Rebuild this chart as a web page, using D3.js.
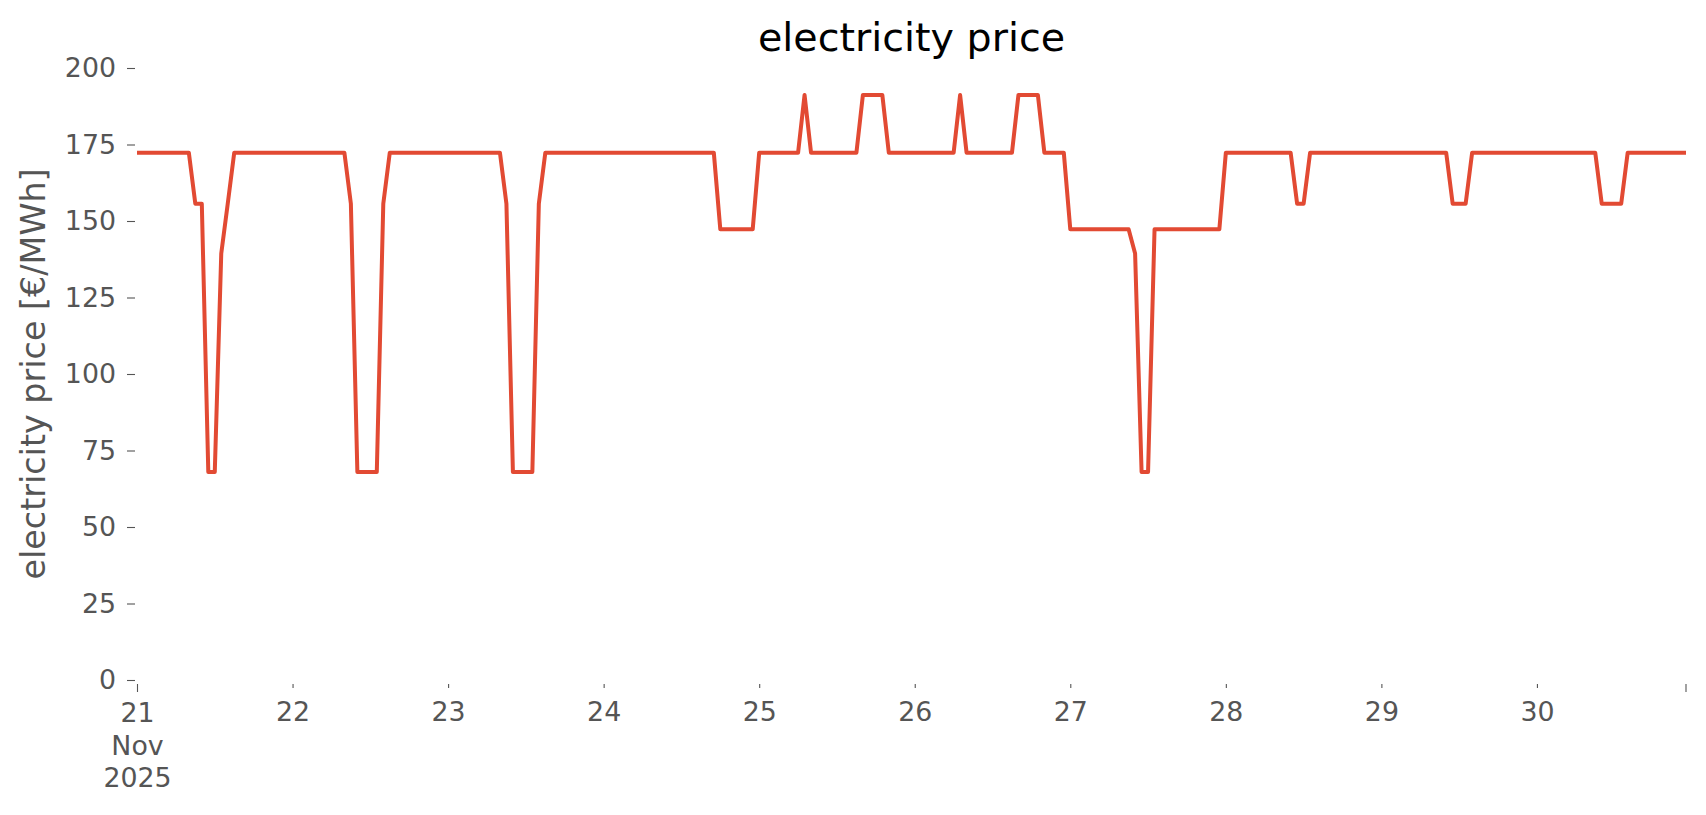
<!DOCTYPE html>
<html>
<head>
<meta charset="utf-8">
<script src="https://cdn.jsdelivr.net/npm/d3@7"></script>
<style>
  body { margin: 0; background: #fff; }
  text { font-family: "DejaVu Sans", sans-serif; }
</style>
</head>
<body>
<script>
// hourly prices in €/MWh, one row per day (21 Nov .. 30 Nov 2025)
var day21 = [172.3,172.3,172.3,172.3,172.3,172.3,172.3,172.3,172.3,155.6,155.6,68,68,139.4,155.6,172.3,172.3,172.3,172.3,172.3,172.3,172.3,172.3,172.3];
var day22 = [172.3,172.3,172.3,172.3,172.3,172.3,172.3,172.3,172.3,155.6,68,68,68,68,155.6,172.3,172.3,172.3,172.3,172.3,172.3,172.3,172.3,172.3];
var day23 = [172.3,172.3,172.3,172.3,172.3,172.3,172.3,172.3,172.3,155.6,68,68,68,68,155.6,172.3,172.3,172.3,172.3,172.3,172.3,172.3,172.3,172.3];
var day24 = [172.3,172.3,172.3,172.3,172.3,172.3,172.3,172.3,172.3,172.3,172.3,172.3,172.3,172.3,172.3,172.3,172.3,172.3,147.3,147.3,147.3,147.3,147.3,147.3];
var day25 = [172.3,172.3,172.3,172.3,172.3,172.3,172.3,191.2,172.3,172.3,172.3,172.3,172.3,172.3,172.3,172.3,191.2,191.2,191.2,191.2,172.3,172.3,172.3,172.3];
var day26 = [172.3,172.3,172.3,172.3,172.3,172.3,172.3,191.2,172.3,172.3,172.3,172.3,172.3,172.3,172.3,172.3,191.2,191.2,191.2,191.2,172.3,172.3,172.3,172.3];
var day27 = [147.3,147.3,147.3,147.3,147.3,147.3,147.3,147.3,147.3,147.3,139.4,68,68,147.3,147.3,147.3,147.3,147.3,147.3,147.3,147.3,147.3,147.3,147.3];
var day28 = [172.3,172.3,172.3,172.3,172.3,172.3,172.3,172.3,172.3,172.3,172.3,155.6,155.6,172.3,172.3,172.3,172.3,172.3,172.3,172.3,172.3,172.3,172.3,172.3];
var day29 = [172.3,172.3,172.3,172.3,172.3,172.3,172.3,172.3,172.3,172.3,172.3,155.6,155.6,155.6,172.3,172.3,172.3,172.3,172.3,172.3,172.3,172.3,172.3,172.3];
var day30 = [172.3,172.3,172.3,172.3,172.3,172.3,172.3,172.3,172.3,172.3,155.6,155.6,155.6,155.6,172.3,172.3,172.3,172.3,172.3,172.3,172.3,172.3,172.3,172.3];

var prices = [].concat(day21, day22, day23, day24, day25, day26, day27, day28, day29, day30);
var yTicks = [0, 25, 50, 75, 100, 125, 150, 175, 200];

var width = 1706,
    height = 815,
    plotLeft = 137, plotRight = 1686,
    plotTop = 68, plotBottom = 680;

var start = new Date(2025, 10, 21, 0),
    end = new Date(2025, 10, 30, 23);
var hours = d3.timeHour.range(start, d3.timeHour.offset(end, 1));
var data = hours.map(function(t, i) { return {t: t, v: prices[i]}; });

var svg = d3.select('body')
    .append('svg')
    .attr('width', width)
    .attr('height', height);

var x = d3.scaleTime()
    .domain([start, end])
    .range([plotLeft, plotRight]);

var y = d3.scaleLinear()
    .domain([0, 200])
    .range([plotBottom, plotTop]);

// y axis
var yAxis = svg.append('g')
    .attr('transform', 'translate(' + (plotLeft - 2) + ',0)')
    .call(d3.axisLeft(y).tickValues(yTicks).tickSize(8).tickPadding(11));
yAxis.select('.domain').remove();
yAxis.selectAll('line').attr('stroke', '#555555').attr('stroke-width', 1.1);
yAxis.selectAll('text')
    .attr('fill', '#555555')
    .style('font-size', '26.8px');

// x axis: day ticks, first one carries month and year
var days = d3.timeDay.range(start, end);
var xAxis = svg.append('g')
    .attr('transform', 'translate(0,' + (plotBottom + 4) + ')')
    .call(d3.axisBottom(x).tickValues(days).tickSize(4).tickPadding(14)
        .tickFormat(d3.timeFormat('%-d')));
xAxis.select('.domain').remove();
xAxis.selectAll('line').attr('stroke', '#555555').attr('stroke-width', 1.1);
xAxis.selectAll('text')
    .attr('fill', '#555555')
    .style('font-size', '26.8px');

xAxis.selectAll('.tick').filter(function(d, i) { return i === 0; })
    .each(function(d) {
        var g = d3.select(this);
        g.select('line').attr('y2', 8);
        var t = g.select('text').attr('y', 19).text(null);
        [d3.timeFormat('%-d')(d), d3.timeFormat('%b')(d), d3.timeFormat('%Y')(d)].forEach(function(s, i) {
            t.append('tspan').attr('x', 0).attr('dy', i === 0 ? '0.71em' : '1.22em').text(s);
        });
    });

// closing major tick at the end of the range
xAxis.append('line')
    .attr('x1', x(end)).attr('x2', x(end))
    .attr('y1', 0).attr('y2', 8)
    .attr('stroke', '#555555').attr('stroke-width', 1.1);

// line
var line = d3.line()
    .x(function(d) { return x(d.t); })
    .y(function(d) { return y(d.v); });

svg.append('path')
    .datum(data)
    .attr('d', line)
    .attr('fill', 'none')
    .attr('stroke', '#E24A33')
    .attr('stroke-width', 4)
    .attr('stroke-linejoin', 'round');

// title and label
svg.append('text')
    .attr('x', (plotLeft + plotRight) / 2)
    .attr('y', 51)
    .attr('text-anchor', 'middle')
    .attr('fill', '#000')
    .style('font-size', '39.6px')
    .text('electricity price');

svg.append('text')
    .attr('transform', 'translate(45,' + ((plotTop + plotBottom) / 2) + ') rotate(-90)')
    .attr('text-anchor', 'middle')
    .attr('fill', '#555555')
    .style('font-size', '33.4px')
    .text('electricity price [€/MWh]');
</script>
</body>
</html>
